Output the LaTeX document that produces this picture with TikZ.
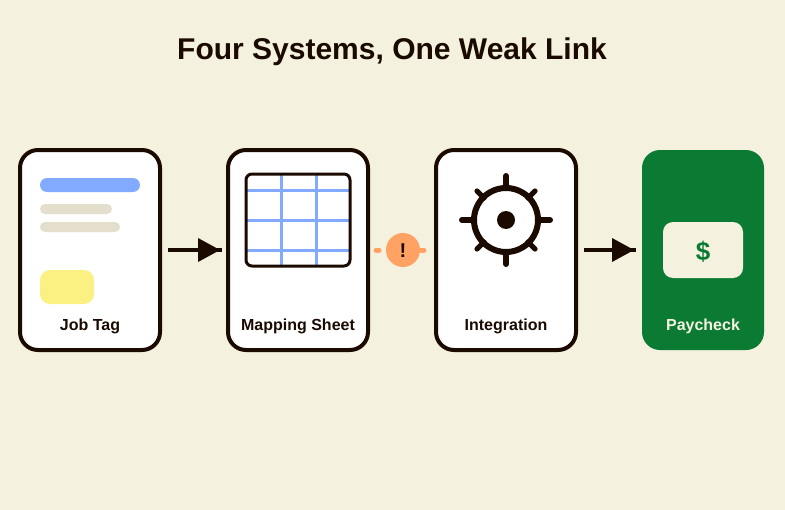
\documentclass[tikz,border=0pt]{standalone}
\usepackage{fontspec}
\setmainfont{Liberation Sans}
\definecolor{ink}{HTML}{1A0A00}
\definecolor{paper}{HTML}{F4F1DE}
\definecolor{blu}{HTML}{82AAFF}
\definecolor{sand}{HTML}{E4DFCC}
\definecolor{yel}{HTML}{FBF082}
\definecolor{grn}{HTML}{0B7B33}
\definecolor{org}{HTML}{FFA263}
\tikzset{
 x=0.75pt,y=-0.75pt,
 cardbox/.style={draw=ink,line width=3pt,fill=white,rounded corners=13.5pt,minimum width=105pt,minimum height=150pt,inner sep=0pt,outer sep=0pt,anchor=center},
 paybox/.style={fill=grn,rounded corners=13.5pt,minimum width=91.5pt,minimum height=150pt,inner sep=0pt,outer sep=0pt},
 captext/.style={font=\bfseries\fontsize{12}{14}\selectfont,text=ink,anchor=base},
 arrowline/.style={draw=ink,line width=3pt},
 gearline/.style={draw=ink,line width=4.5pt,line cap=round},
 gearthin/.style={draw=ink,line width=3.9pt,line cap=round},
 gridline/.style={draw=blu,line width=2.25pt},
 warnline/.style={draw=org,line width=3.75pt,line cap=round},
}
\begin{document}
\begin{tikzpicture}
\useasboundingbox (0,0) rectangle (785,510);
\fill[paper] (0,0) rectangle (785,510);
\node[font=\bfseries\fontsize{22.5}{26}\selectfont,text=ink,anchor=base] (title) at (392,60) {Four Systems, One Weak Link};
\node[cardbox] (job) at (90,250) {};
\node[cardbox] (map) at (298,250) {};
\node[cardbox] (int) at (506,250) {};
\node[paybox] (pay) at (703,250) {};
% job tag
\fill[blu,rounded corners=5.25pt] (40,178) rectangle (140,192);
\fill[sand,rounded corners=3.75pt] (40,204) rectangle (112,214);
\fill[sand,rounded corners=3.75pt] (40,222) rectangle (120,232);
\fill[yel,rounded corners=7.5pt] (40,270) rectangle (94,304);
\node[captext] (l1) at (90,330) {Job Tag};
% sheet
\foreach \xx in {281,316} \draw[gridline] (\xx,174) -- (\xx,266);
\foreach \yy in {190,220,250} \draw[gridline] (246,\yy) -- (350,\yy);
\draw[draw=ink,line width=2.25pt,rounded corners=4.5pt] (246,174) rectangle (350,266);
\node[captext] (l2) at (298,330) {Mapping Sheet};
% gear
\draw[draw=ink,line width=4.5pt] (506,220) circle[radius=32];
\fill[ink] (506,220) circle[radius=9];
\foreach \a/\b/\c/\d in {506/176/506/188,506/252/506/264,462/220/474/220,538/220/550/220}
 \draw[gearline] (\a,\b) -- (\c,\d);
\foreach \a/\b/\c/\d in {477/191/484/198,535/191/528/198,477/249/484/242,535/249/528/242}
 \draw[gearthin] (\a,\b) -- (\c,\d);
\node[captext] (l3) at (506,330) {Integration};
% pay
\node[fill=paper,rounded corners=7.5pt,minimum width=60pt,minimum height=42pt,inner sep=0pt] (cheque) at (703,250) {};
\node[font=\bfseries\fontsize{19.5}{22}\selectfont,text=grn,anchor=base] (dollar) at (703,260) {\$};
\node[captext,text=paper] (l4) at (703,330) {Paycheck};
% arrows
\draw[arrowline,shorten <=6pt,shorten >=4.5pt] (job.east) -- (map.west);
\fill[ink] (198,238) -- (220,250) -- (198,262) -- cycle;
\draw[arrowline,shorten <=6pt,shorten >=4.5pt] (int.east) -- (pay.west);
\fill[ink] (612,238) -- (634,250) -- (612,262) -- cycle;
% warning
\node[circle,fill=org,minimum size=25.5pt,inner sep=0pt] (warn) at (403,250) {};
\node[font=\bfseries\fontsize{15}{18}\selectfont,text=ink,anchor=base] (bang) at (403,257) {!};
\draw[warnline] (376,250) -- (379,250);
\draw[warnline] (421,250) -- (424,250);
\end{tikzpicture}
\end{document}
